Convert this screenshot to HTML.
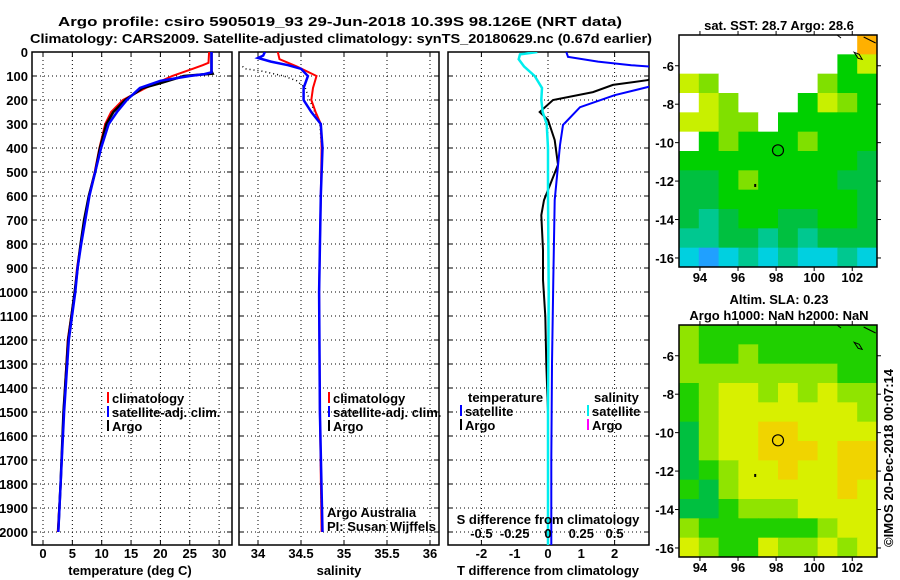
<!DOCTYPE html>
<html><head><meta charset="utf-8"><style>
html,body{margin:0;padding:0;background:#fff;}
svg{display:block;font-family:"Liberation Sans",sans-serif;}
text{font-weight:bold;font-size:13px;fill:#000;}
</style></head><body>
<svg id="c" width="900" height="580" viewBox="0 0 900 580"></svg>
<script>
// ---------- data ----------
const depthTicks=[0,100,200,300,400,500,600,700,800,900,1000,1100,1200,1300,1400,1500,1600,1700,1800,1900,2000];
const tempTicks=[0,5,10,15,20,25,30];
const salTicks=[34,34.5,35,35.5,36];
const salTickLabels=["34","34.5","35","35.5","36"];
const tdTicks=[-2,-1,0,1,2];
const sdTicks=[-0.5,-0.25,0,0.25,0.5];
const sdTickLabels=["-0.5","-0.25","0","0.25","0.5"];

const tClimDepth=[0,45,55,70,100,150,200,250,300,400,500,600,700,800,900,1000,1200,1500,1800,2000];
const tClimVal=[28.3,28.2,27.2,25.5,22,17.5,13.6,11.6,10.6,9.6,8.8,7.8,7.1,6.4,5.8,5.4,4.2,3.5,3.0,2.5];
const tSatDepth=[0,85,92,100,120,150,200,250,300,400,500,600,700,800,900,1000,1200,1500,1800,2000];
const tSatVal=[28.7,28.7,27.5,25,20,16.5,14.3,12.6,11.2,9.9,8.9,7.9,7.2,6.5,5.9,5.5,4.4,3.6,3.0,2.6];
const tArgoDepth=[0,80,90,100,130,150,200,250,300,400,500,600,700,800,900,1000,1200,1500,1800,1990];
const tArgoVal=[28.7,28.7,28.9,24,20,17,14,12,10.8,9.7,8.9,7.8,7.0,6.4,5.9,5.4,4.3,3.5,3.0,2.6];

const sClimDepth=[0,30,60,100,150,200,250,300,400,600,800,1000,1500,2000];
const sClimVal=[34.23,34.25,34.45,34.68,34.64,34.62,34.67,34.73,34.74,34.73,34.72,34.71,34.72,34.74];
const sSatDepth=[0,15,25,40,55,70,100,120,150,200,250,300,400,600,1000,1500,2000];
const sSatVal=[34.08,34.06,34.0,34.15,34.35,34.5,34.58,34.56,34.53,34.53,34.62,34.73,34.75,34.73,34.71,34.72,34.75];
const sArgoDepth=[60,70,80,100,120,150,200,250,300,400,600,800,1000,1500,2000];
const sArgoVal=[33.82,33.85,34.05,34.3,34.45,34.55,34.6,34.66,34.72,34.74,34.73,34.72,34.71,34.72,34.74];

const dTSatDepth=[0,20,40,55,62,140,146,180,230,304,388,617,950,1300,1700,2060];
const dTSatVal=[0.55,0.6,1.5,2.5,3.2,3.2,3.0,2.0,0.96,0.45,0.36,0.2,0.16,0.12,0.1,0.1];
const dTArgoDepth=[90,117,137,167,200,250,283,367,470,617,680,825,950,1100,1300,1500];
const dTArgoVal=[3.3,3.0,1.95,1.35,0.15,-0.25,0.0,0.2,0.3,-0.12,-0.2,-0.15,-0.15,-0.08,-0.05,0.0];
const dSSatDepth=[0,10,30,60,100,150,200,250,300,400,600,1000,1500,2060];
const dSSatVal=[-0.08,-0.21,-0.22,-0.18,-0.1,-0.045,-0.05,-0.04,-0.01,0,0,0.005,0,0];

// maps: 12 rows (1 deg lat from -4.4), 10 cols (lon 92.9..103.3)
const sstRows=["NNNNNNNNNO","NNNNNNNNGY","YLNNNNNLGG","NYLNNNGYLG","YYLLNGGGGG","NGLGGGLGGG","GGGGGGGGGM","MMGLGGGGMM","MMGGGGGGGM","MTMGGMMGGM","TTMMTMTMMM","CBCTCTCCTC"];
const slaRows=["LGGGGGGGGG","LGGLGGGGGG","LLLLLLLLGG","GLYYLYLYLL","GLYYYYYYYL","MLYYWWYYYY","MLYYWWWYWW","MGLYYWYYWW","GMLYYYYYWY","MMGLLLYYYY","LGGGGGGLYY","YLGGYLLYLY"];
const lonTicks=[94,96,98,100,102];
const latTicks=[-6,-8,-10,-12,-14,-16];
const floatLon=98.1, floatLat=-10.4;

// ---------- drawing ----------
const NS="http://www.w3.org/2000/svg";
const svg=document.getElementById('c');
function el(tag,attrs,parent){const e=document.createElementNS(NS,tag);for(const k in attrs)e.setAttribute(k,attrs[k]);(parent||svg).appendChild(e);return e;}
function txt(x,y,s,anchor,parent,extra){const t=el('text',Object.assign({x:x,y:y,'text-anchor':anchor||'middle'},extra||{}),parent);t.textContent=s;return t;}

const yD=d=>52+d*0.24;
const xT=v=>43+v*5.87;
const xS=v=>258+(v-34)*86;
const xTd=v=>548+v*33.3;
const xSd=v=>548+v*133.2;

function panel(name,x0,x1,gx){
  const g=el('g',{},svg);
  
  
  depthTicks.forEach(d=>{el('line',{x1:x0,x2:x1,y1:yD(d),y2:yD(d),stroke:'#000','stroke-dasharray':'1,3','stroke-width':1},g);
    el('line',{x1:x0,x2:x0+5,y1:yD(d),y2:yD(d),stroke:'#000'},g);el('line',{x1:x1-5,x2:x1,y1:yD(d),y2:yD(d),stroke:'#000'},g);});
  gx.forEach(x=>{el('line',{x1:x,x2:x,y1:52,y2:545,stroke:'#000','stroke-dasharray':'1,3'},g);
    el('line',{x1:x,x2:x,y1:545,y2:540,stroke:'#000'},g);el('line',{x1:x,x2:x,y1:52,y2:57,stroke:'#000'},g);});
  el('rect',{x:x0,y:52,width:x1-x0,height:493,fill:'none',stroke:'#000','stroke-width':1.5},g);
  return g;
}
function clipFor(id,x0,x1){const cp=el('clipPath',{id:id});el('rect',{x:x0,y:52,width:x1-x0,height:493},cp);}
function line(g,ds,vs,xf,color,w,name,dash){
  let p='';ds.forEach((d,i)=>{p+=(i?'L':'M')+xf(vs[i]).toFixed(1)+','+yD(d).toFixed(1);});
  const a={d:p,fill:'none',stroke:color,'stroke-width':w};if(dash)a['stroke-dasharray']=dash;
  const e=el('path',a,g);
  
  
}

// titles
txt(340,26,"Argo profile: csiro 5905019_93 29-Jun-2018 10.39S 98.126E (NRT data)",'middle',svg,{'font-size':'15',textLength:'564',lengthAdjust:'spacingAndGlyphs'});
txt(341,43,"Climatology: CARS2009. Satellite-adjusted climatology: synTS_20180629.nc (0.67d earlier)",'middle',svg,{'font-size':'15',textLength:'622',lengthAdjust:'spacingAndGlyphs'});

// panel 1
clipFor('cp1',32,232);
const p1=panel('temperature-panel',32,232,tempTicks.map(xT));
depthTicks.forEach(d=>txt(28,yD(d)+5,String(d),'end',p1));
tempTicks.forEach(v=>txt(xT(v),558,String(v),'middle',p1));
txt(130,575,"temperature (deg C)",'middle',p1);
const l1=el('g',{'clip-path':'url(#cp1)'},p1);
line(l1,tClimDepth,tClimVal,xT,'#f00',2,'temperature-climatology-line');
line(l1,tArgoDepth,tArgoVal,xT,'#000',2.5,'temperature-argo-line');
line(l1,tSatDepth,tSatVal,xT,'#00f',2.5,'temperature-satellite-line');

// panel 2
clipFor('cp2',239,439);
const p2=panel('salinity-panel',239,439,salTicks.map(xS));
salTicks.forEach((v,i)=>txt(xS(v),558,salTickLabels[i],'middle',p2));
txt(339,575,"salinity",'middle',p2);
const l2=el('g',{'clip-path':'url(#cp2)'},p2);
line(l2,sArgoDepth,sArgoVal,xS,'#000',1.5,'salinity-argo-line','1,3');
line(l2,sClimDepth,sClimVal,xS,'#f00',2,'salinity-climatology-line');
line(l2,sSatDepth,sSatVal,xS,'#00f',2.5,'salinity-satellite-line');
txt(327,517,"Argo Australia",'start',p2,{'font-weight':'normal','font-size':'12'});
txt(327,531,"PI: Susan Wijffels",'start',p2,{'font-weight':'normal','font-size':'12'});

// panel 3
clipFor('cp3',448,649);
const p3=panel('difference-panel',448,649,[-2,0,2].map(xTd));
tdTicks.forEach(v=>txt(xTd(v),558,String(v),'middle',p3));
txt(548,575,"T difference from climatology",'middle',p3);
const l3=el('g',{'clip-path':'url(#cp3)'},p3);
line(l3,dTArgoDepth,dTArgoVal,xTd,'#000',2,'t-diff-argo-line');
line(l3,dTSatDepth,dTSatVal,xTd,'#00f',2,'t-diff-satellite-line');
line(l3,dSSatDepth,dSSatVal,xSd,'#0ee',2.5,'s-diff-satellite-line');
txt(548,524,"S difference from climatology",'middle',p3);
sdTicks.forEach((v,i)=>txt(xSd(v),538,sdTickLabels[i],'middle',p3));

// legends
function legend(g,x,y,color,label,name){
  const lg=el('g',{},g);
  
  
  el('rect',{x:x,y:y-11,width:2,height:11,fill:color},lg);
  txt(x+5,y,label,'start',lg);
}
legend(p1,107,403,'#f00','climatology','legend-climatology');
legend(p1,107,417,'#00f','satellite-adj. clim.','legend-satellite-adj');
legend(p1,107,431,'#000','Argo','legend-argo');
legend(p2,328,403,'#f00','climatology','legend-sal-climatology');
legend(p2,328,417,'#00f','satellite-adj. clim.','legend-sal-satellite-adj');
legend(p2,328,431,'#000','Argo','legend-sal-argo');
txt(468,402,"temperature",'start',p3);
txt(594,402,"salinity",'start',p3);
legend(p3,460,416,'#00f','satellite','legend-t-satellite');
legend(p3,460,430,'#000','Argo','legend-t-argo');
legend(p3,587,416,'#0ee','satellite','legend-s-satellite');
legend(p3,587,430,'#f0f','Argo','legend-s-argo');

// maps
const colors={N:'#ffffff',O:'#ffb000',Y:'#c8f000',L:'#80e000',G:'#00d000',M:'#00c040',T:'#00c890',C:'#00d0e0',B:'#20a0ff',W:'#f0d000'};
const slaColors={N:'#fff',Y:'#d8f000',L:'#90e400',G:'#20d000',M:'#00c040',W:'#f0d400'};
function map(name,top,rows,pal,titles){
  const g=el('g',{},svg);
  
  
  const L=679,R=877,B=top+232;
  const lx=v=>L+(v-92.9)*(R-L)/10.4;
  const ly=v=>top+(-4.4-v)*(B-top)/12.07;
  const cw=(R-L)/10,ch=(B-top)/rows.length;
  rows.forEach((r,i)=>{for(let j=0;j<r.length;j++){const c=el('rect',{x:L+j*cw,y:top+i*ch,width:cw+0.5,height:ch+0.5,fill:pal[r[j]]},g);
    
    }});
  el('path',{d:`M${lx(102.1)},${ly(-5.3)} l5,2 l3,5 l-4,-1 z M${lx(101.2)},${top} l4,3 M${lx(102.6)},${top+2} l12,6`,fill:'none',stroke:'#000'},g);
  el('circle',{cx:lx(floatLon),cy:ly(floatLat),r:5.5,fill:'none',stroke:'#000','stroke-width':1.2},g);
  el('rect',{x:lx(96.85),y:ly(-12.15),width:2,height:3,fill:'#000'},g);
  el('rect',{x:L,y:top,width:R-L,height:B-top,fill:'none',stroke:'#000','stroke-width':1.5},g);
  lonTicks.forEach(v=>{el('line',{x1:lx(v),x2:lx(v),y1:B,y2:B+4,stroke:'#000'},g);el('line',{x1:lx(v),x2:lx(v),y1:top,y2:top-4,stroke:'#000'},g);txt(lx(v),B+15,String(v),'middle',g);});
  latTicks.forEach(v=>{el('line',{x1:L,x2:L-4,y1:ly(v),y2:ly(v),stroke:'#000'},g);el('line',{x1:R,x2:R+4,y1:ly(v),y2:ly(v),stroke:'#000'},g);txt(674,ly(v)+5,String(v),'end',g);});
  titles.forEach((t,i)=>txt(779,top-(titles.length-i)*16+11,t,'middle',g));
}
map('sst-map',35,sstRows,colors,["sat. SST: 28.7 Argo: 28.6"]);
map('sla-map',325,slaRows,slaColors,["Altim. SLA: 0.23","Argo h1000: NaN h2000: NaN"]);
const cr=txt(0,0,"©IMOS 20-Dec-2018 00:07:14",'middle',svg,{'font-weight':'normal','font-size':'13',transform:'translate(893,458) rotate(-90)'});

</script>
</body></html>
